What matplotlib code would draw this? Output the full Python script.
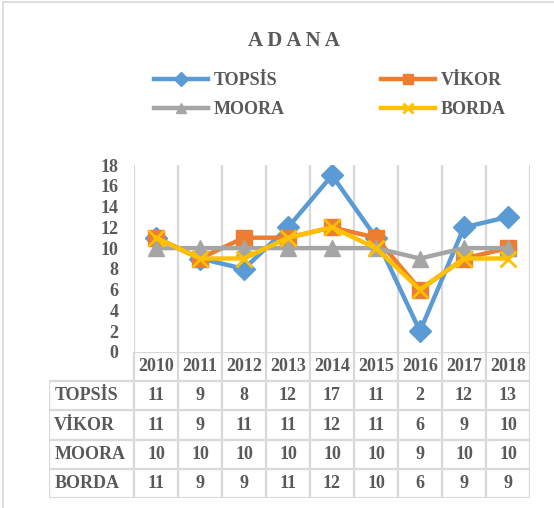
import numpy as np
import matplotlib.pyplot as plt
from matplotlib.lines import Line2D

years = ["2010", "2011", "2012", "2013", "2014", "2015", "2016", "2017", "2018"]
topsis = [11, 9, 8, 12, 17, 11, 2, 12, 13]
vikor = [11, 9, 11, 11, 12, 11, 6, 9, 10]
moora = [10, 10, 10, 10, 10, 10, 9, 10, 10]
borda = [11, 9, 9, 11, 12, 10, 6, 9, 9]
names = ["TOPSİS", "VİKOR", "MOORA", "BORDA"]
series = [topsis, vikor, moora, borda]

colors = ["#5B9BD5", "#ED7D31", "#A5A5A5", "#FFC000"]
markers = ["D", "s", "^", "x"]
msizes = [11, 12, 11, 11]
grid_c = "#D9D9D9"
txt_c = "#595959"

plt.rcParams['font.family'] = ['Liberation Serif', 'DejaVu Serif']
plt.rcParams['font.weight'] = 'bold'

W, H = 554, 508
fig = plt.figure(figsize=(W / 100, H / 100), dpi=100)

def fx(px):
    return px / W

def fy(py):
    return 1 - py / H

# chart frame (top and left edges visible)
fig.add_artist(Line2D([fx(3), 1], [fy(1.5), fy(1.5)], color=grid_c, lw=1.2))
fig.add_artist(Line2D([fx(3), fx(3)], [fy(1.5), 0], color=grid_c, lw=1.2))

ax = fig.add_axes([fx(134), fy(352), fx(530) - fx(134), fy(165) - fy(352)])
x = np.arange(len(years))
for vals, name, c, m, ms in zip(series, names, colors, markers, msizes):
    ax.plot(x, vals, color=c, lw=3.2, marker=m, ms=ms, mew=2 if m == "x" else 1,
            mec=c, mfc=c, label=name, solid_joinstyle='round')

ax.set_xlim(-0.5, len(years) - 0.5)
ax.set_ylim(0, 18)
ax.set_yticks(range(0, 19, 2))
ax.set_xticks([])
ax.tick_params(axis='y', length=0, pad=11, labelsize=13, labelcolor=txt_c)
for s in ax.spines.values():
    s.set_visible(False)
ax.vlines(np.arange(-0.5, len(years)), 0, 18, color=grid_c, lw=1.6, zorder=0)

fig.text(fx(294), fy(41), "A D A N A", ha='center', va='center', fontsize=15,
         color=txt_c, fontweight='bold')

handles, labels = ax.get_legend_handles_labels()
order = [0, 2, 1, 3]
leg = fig.legend([handles[i] for i in order], [labels[i] for i in order], ncol=2,
                 loc='center', bbox_to_anchor=(fx(330), fy(95)), frameon=False,
                 prop={'size': 13, 'weight': 'bold'}, handlelength=3.0,
                 columnspacing=5.35, handletextpad=0.3, labelspacing=0.65,
                 markerscale=0.65)
for t in leg.get_texts():
    t.set_color(txt_c)

# data table under the plot
label_w = (134 - 49) / 44.0
tab = fig.add_axes([fx(49), fy(498), fx(530) - fx(49), fy(352) - fy(498)])
tab.set_xlim(-0.5 - label_w, len(years) - 0.5)
tab.set_ylim(5, 0)
tab.axis('off')
left = -0.5 - label_w
right = len(years) - 0.5
tab.hlines(0, -0.5, right, color=grid_c, lw=1.6)
tab.hlines(np.arange(1, 6), left, right, color=grid_c, lw=1.6)
tab.vlines(np.arange(-0.5, len(years)), 0, 5, color=grid_c, lw=1.6)
tab.vlines(left, 1, 5, color=grid_c, lw=1.6)
for j, yr in enumerate(years):
    tab.text(j, 0.5, yr, ha='center', va='center', fontsize=13, color=txt_c)
for i, (name, vals) in enumerate(zip(names, series)):
    tab.text(left + 0.12, i + 1.5, name, ha='left', va='center', fontsize=13, color=txt_c)
    for j, v in enumerate(vals):
        tab.text(j, i + 1.5, str(v), ha='center', va='center', fontsize=13, color=txt_c)

fig.savefig("out.png", dpi=100)
